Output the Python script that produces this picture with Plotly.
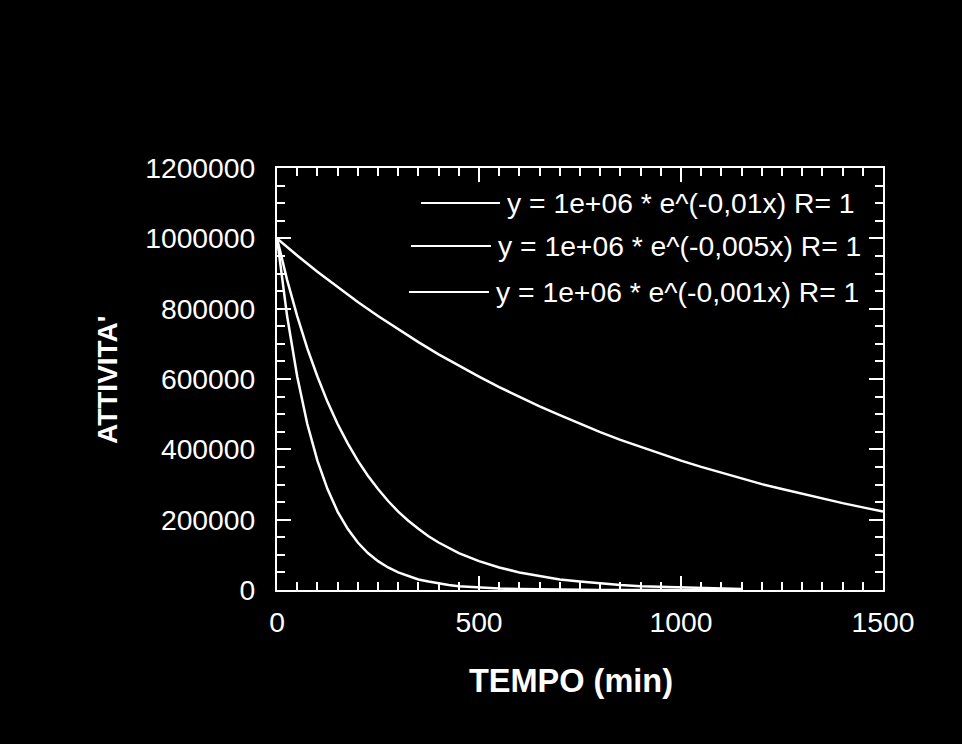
import plotly.graph_objects as go

# ---- data ----
x_slow = [0, 50, 100, 150, 200, 250, 300, 350, 400, 450, 500, 550, 600, 650, 700, 750,
          800, 850, 900, 950, 1000, 1050, 1100, 1150, 1200, 1250, 1300, 1350, 1400, 1450, 1500]
y_slow = [1000000, 951000, 905000, 861000, 819000, 779000, 741000, 705000, 670000, 638000,
          607000, 577000, 549000, 522000, 497000, 472000, 449000, 427000, 407000, 387000,
          368000, 350000, 333000, 317000, 301000, 287000, 273000, 259000, 247000, 235000, 223000]

x_mid = [0, 25, 50, 75, 100, 125, 150, 175, 200, 225, 250, 275, 300, 325, 350, 375, 400,
         450, 500, 550, 600, 650, 700, 750, 800, 850, 900, 950, 1000, 1050, 1100, 1150]
y_mid = [1000000, 882000, 779000, 687000, 607000, 535000, 472000, 417000, 368000, 325000,
         287000, 253000, 223000, 197000, 174000, 153000, 135000, 105000, 82000, 64000,
         50000, 39000, 30000, 24000, 18000, 14000, 11000, 9000, 7000, 5000, 4000, 3000]

x_fast = [0, 25, 50, 75, 100, 125, 150, 175, 200, 225, 250, 275, 300, 325, 350, 375, 400,
          425, 450, 475, 500, 550, 600, 650, 700, 800, 900, 1000, 1150]
y_fast = [1000000, 779000, 607000, 472000, 368000, 287000, 223000, 174000, 135000, 105000,
          82000, 64000, 50000, 39000, 30000, 24000, 18000, 14000, 11000, 9000, 7000, 4000,
          2500, 1500, 900, 300, 100, 50, 10]

legend_labels = ["y = 1e+06 * e^(-0,01x) R= 1",
                 "y = 1e+06 * e^(-0,005x) R= 1",
                 "y = 1e+06 * e^(-0,001x) R= 1"]

x_ticks = [0, 500, 1000, 1500]
y_ticks = [0, 200000, 400000, 600000, 800000, 1000000, 1200000]

FONT = "Liberation Sans, Arial, Helvetica, sans-serif"
WHITE = "#ffffff"

fig = go.Figure()
for xs, ys, name in [(x_fast, y_fast, legend_labels[0]),
                     (x_mid, y_mid, legend_labels[1]),
                     (x_slow, y_slow, legend_labels[2])]:
    fig.add_trace(go.Scatter(x=xs, y=ys, mode="lines", name=name,
                             line=dict(color=WHITE, width=2.5), showlegend=False))

# manual legend (line sample + text)
leg_rows = [(0.2376, 0.3680, 0.917, 0.3762),
            (0.2211, 0.3531, 0.815, 0.3614),
            (0.2178, 0.3498, 0.706, 0.3581)]
for (x0, x1, yy, xt), lab in zip(leg_rows, legend_labels):
    fig.add_shape(type="line", xref="paper", yref="paper", x0=x0, x1=x1, y0=yy, y1=yy,
                  line=dict(color=WHITE, width=2))
    fig.add_annotation(xref="paper", yref="paper", x=xt, y=yy, text=lab, showarrow=False,
                       xanchor="left", yanchor="middle",
                       font=dict(family=FONT, size=28.3, color=WHITE))

axis_common = dict(showline=True, linecolor=WHITE, linewidth=2, mirror="ticks",
                   ticks="inside", tickcolor=WHITE, tickwidth=2, ticklen=14,
                   showgrid=False, zeroline=False,
                   tickfont=dict(family=FONT, size=28.3, color=WHITE))

fig.update_xaxes(range=[0, 1500], tickvals=x_ticks, ticktext=[str(v) for v in x_ticks],
                 minor=dict(dtick=50, ticks="inside", ticklen=8, tickcolor=WHITE, tickwidth=2,
                            showgrid=False),
                 ticklabelstandoff=6, **axis_common)
fig.update_yaxes(range=[0, 1200000], tickvals=y_ticks, ticktext=[str(v) for v in y_ticks],
                 minor=dict(dtick=50000, ticks="inside", ticklen=8, tickcolor=WHITE, tickwidth=2,
                            showgrid=False),
                 ticklabelstandoff=14, **axis_common)

fig.add_annotation(xref="paper", yref="paper", x=(571 - 277) / 606, y=(590 - 681) / 422,
                   text="<b>TEMPO (min)</b>", showarrow=False, xanchor="center", yanchor="middle",
                   font=dict(family=FONT, size=32.5, color=WHITE))
fig.add_annotation(xref="paper", yref="paper", x=(107 - 277) / 606, y=(590 - 380) / 422,
                   text="<b>ATTIVITA'</b>", showarrow=False, xanchor="center", yanchor="middle",
                   textangle=-90, font=dict(family=FONT, size=28, color=WHITE))

fig.update_layout(width=962, height=744, paper_bgcolor="#000000", plot_bgcolor="#000000",
                  margin=dict(l=277, r=79, t=168, b=154), showlegend=False)

fig.write_html("out.html")
